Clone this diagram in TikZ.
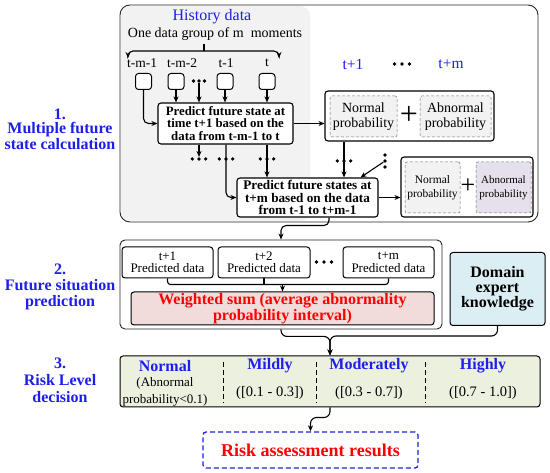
\documentclass[tikz,border=0pt]{standalone}
\usepackage{fontspec}
\setmainfont{Liberation Serif}
\usepackage{tikz}
\usetikzlibrary{calc}
\usetikzlibrary{arrows.meta}

\definecolor{hisblue}{RGB}{30,30,235}
\definecolor{hisgray}{RGB}{242,242,242}
\definecolor{wsumpink}{RGB}{242,220,219}
\definecolor{domainblue}{RGB}{218,238,243}
\definecolor{riskgreen}{RGB}{235,241,222}
\definecolor{abnlilac}{RGB}{230,224,236}

\tikzstyle{dot}=[circle, fill=black, minimum size=3.6pt, inner sep=0pt]
\tikzstyle{frame}=[draw=black!85, line width=0.9pt, rounded corners=5pt, inner sep=0pt]
\tikzstyle{predbox}=[draw, line width=1.1pt, rounded corners=3pt, fill=white, align=center, inner sep=0pt, font=\bfseries\fontsize{12.8}{12.5}\selectfont]
\tikzstyle{timebox}=[draw, line width=1pt, rounded corners=3pt, fill=white, minimum size=16pt, inner sep=0pt]
\tikzstyle{probbox}=[draw=black!55, densely dashed, line width=0.5pt, rounded corners=2pt, fill=hisgray, align=center, inner sep=0pt, font=\fontsize{14}{15}\selectfont]
\tikzstyle{secname}=[text=hisblue, align=center]
\tikzstyle{arr}=[line width=1.1pt, -{Stealth[length=6pt,width=5pt]}]
\tikzstyle{ln}=[line width=1.1pt]

\begin{document}
\begin{tikzpicture}[x=1pt,y=-1pt]
\useasboundingbox (0,0) rectangle (550,473);

\fill[hisgray, rounded corners=10pt] (121,6) rectangle (310,221);
\node[frame, rounded corners=10pt, minimum width=418pt, minimum height=217pt] (calc) at (329,113.5) {};

\node[secname, font=\bfseries\fontsize{16}{14.5}\selectfont] (lab1) at (60,129) {1.\\Multiple future\\state calculation};
\node[secname, font=\bfseries\fontsize{16}{16}\selectfont] (lab2) at (60,287) {2.\\Future situation\\prediction};
\node[secname, font=\bfseries\fontsize{16}{17}\selectfont] (lab3) at (60,380) {3.\\Risk Level\\decision};

\node[text=hisblue, font=\fontsize{16}{16}\selectfont] (hist) at (212,17) {History data};
\node[font=\fontsize{14}{14}\selectfont] (group) at (215,34) {One data group of m\ \ moments};
\coordinate (brtop) at (204,44);
\coordinate (brmid) at (204,51);
\coordinate (brL) at (128,58);
\coordinate (brR) at (279,58);
\draw[ln] (brtop) -- (brmid);
\draw[arr, rounded corners=5pt] (brmid) -| (brL);
\draw[arr, rounded corners=5pt] (brmid) -| (brR);

\node[font=\fontsize{13.5}{13.5}\selectfont] (tA) at (142,63) {t-m-1};
\node[font=\fontsize{13.5}{13.5}\selectfont] (tB) at (182,63) {t-m-2};
\node[font=\fontsize{13.5}{13.5}\selectfont] (tC) at (226,63) {t-1};
\node[font=\fontsize{13.5}{13.5}\selectfont] (tD) at (267,63) {t};
\node[timebox] (sA) at (143.5,81.5) {};
\node[timebox] (sB) at (176,81.5) {};
\node[timebox] (sC) at (225,81.5) {};
\node[timebox] (sD) at (267,81.5) {};

\foreach \n/\x/\y/\s in {dA/199/81/5.5, dB/199/159/6.7, dC/226/159/6.7, dD/267/159/6.7, dE/344/161/6.7, dT/402/64/7.5, dP/324/262/7.5} {
  \node[dot] (\n) at (\x,\y) {};
  \node[dot] (\n-l) at (\x-\s,\y) {};
  \node[dot] (\n-r) at (\x+\s,\y) {};
}
\node[dot] (dV) at (385,161) {};
\node[dot] (dV-t) at (385,155) {};
\node[dot] (dV-b) at (385,167) {};

\node[predbox, minimum width=135pt, minimum height=41pt] (box1) at (225.5,123.5) {Predict future state at\\time t+1 based on the\\data from t-m-1 to t};
\node[predbox, font=\bfseries\fontsize{13.2}{12.5}\selectfont, minimum width=141pt, minimum height=39pt] (box2) at (307.5,197.5) {Predict future states at\\t+m based on the data\\from t-1 to t+m-1};

\draw[arr, rounded corners=5pt] (sA.south) |- (box1.west);
\draw[arr] (sB.south) -- (sB |- box1.north);
\draw[arr] (dA) -- (dA |- box1.north);
\draw[arr] (sC.south) -- (sC |- box1.north);
\draw[arr] (sD.south) -- (sD |- box1.north);

\node[text=hisblue, font=\fontsize{15.5}{15.5}\selectfont] (tp1) at (353,64) {t+1};
\node[text=hisblue, font=\fontsize{15.5}{15.5}\selectfont] (tpm) at (451,64) {t+m};

\node[draw, line width=1.1pt, rounded corners=3pt, fill=white, minimum width=169pt, minimum height=50pt] (pr1) at (409.5,116) {};
\node[probbox, minimum width=67pt, minimum height=41pt] (nA) at (363.5,116.5) {Normal\\probability};
\node[font=\fontsize{32}{32}\selectfont, inner sep=0pt] (plus1) at (409,115) {+};
\node[probbox, minimum width=71pt, minimum height=41pt] (nB) at (455.5,116.5) {Abnormal\\probability};

\node[draw, line width=1.1pt, rounded corners=3pt, fill=white, minimum width=132pt, minimum height=60pt] (pr2) at (467,187) {};
\node[probbox, font=\fontsize{11.5}{14}\selectfont, minimum width=55pt, minimum height=51pt] (nC) at (432.5,187.5) {Normal\\probability};
\node[font=\fontsize{26}{26}\selectfont, inner sep=0pt] (plus2) at (468,186) {+};
\node[probbox, fill=abnlilac, font=\fontsize{11}{14}\selectfont, minimum width=55pt, minimum height=51pt] (nD) at (503.5,187.5) {Abnormal\\probability};

\draw[arr] (box1.east) -- (box1.east -| pr1.west);
\draw[arr] (dB |- box1.south) -- (dB.north);
\draw[arr, rounded corners=5pt] (dC |- box1.south) |- (box2.west);
\draw[arr] (dD |- box1.south) -- (dD |- box2.north);
\draw[arr] (dE |- pr1.south) -- (dE |- box2.north);
\draw[arr] (dV) -- ([xshift=-18pt]box2.north east);
\draw[arr] (box2.east) -- (box2.east -| pr2.west);

\node[frame, minimum width=322pt, minimum height=89pt] (pred) at (281,284.5) {};
\draw[arr, rounded corners=5pt] ([xshift=21.5pt]box2.south) |- ($(pred.north)+(0,-14)$) -- (pred.north);

\node[draw, line width=1pt, rounded corners=3pt, fill=white, minimum width=91pt, minimum height=31pt, align=center, inner sep=0pt, font=\fontsize{13}{12.5}\selectfont] (pd1) at (167.5,262.5) {t+1\\Predicted data};
\node[draw, line width=1pt, rounded corners=3pt, fill=white, minimum width=92pt, minimum height=31pt, align=center, inner sep=0pt, font=\fontsize{13}{12.5}\selectfont] (pd2) at (264,262.5) {t+2\\Predicted data};
\node[draw, line width=1pt, rounded corners=3pt, fill=white, minimum width=91pt, minimum height=31pt, align=center, inner sep=0pt, font=\fontsize{13}{12.5}\selectfont] (pd3) at (388.5,262.5) {t+m\\Predicted data};

\node[draw, line width=1pt, rounded corners=3pt, fill=wsumpink, minimum width=303pt, minimum height=33pt, align=center, inner sep=0pt, text=red, font=\bfseries\fontsize{16}{14.5}\selectfont] (wsum) at (282.5,308.5) {Weighted sum (average abnormality\\probability interval)};

\draw[ln, rounded corners=3pt] (pd1.south) -- ++(0,6) -| (pd3.south);
\draw[ln] (pd2.south) -- ++(0,6);
\draw[arr] (wsum.north |- 0,284) -- (wsum.north);

\node[draw, line width=1pt, rounded corners=3pt, fill=domainblue, minimum width=95pt, minimum height=73pt, align=center, inner sep=0pt, font=\bfseries\fontsize{16}{15}\selectfont] (domain) at (497.5,289) {Domain\\expert\\knowledge};

\node[draw, line width=1pt, rounded corners=3pt, fill=riskgreen, minimum width=420pt, minimum height=51pt] (risk) at (330,381.5) {};
\draw[arr, rounded corners=6pt] (pred.south) -- ++(0,7) -| (risk.north);
\draw[arr, rounded corners=6pt] (domain.south) -- ++(0,10) -| (risk.north);

\draw[line width=0.8pt, dash pattern=on 5pt off 3pt] (223,362) -- (223,403);
\draw[line width=0.8pt, dash pattern=on 5pt off 3pt] (316,362) -- (316,403);
\draw[line width=0.8pt, dash pattern=on 5pt off 3pt] (425,362) -- (425,403);

\node[text=hisblue, font=\bfseries\fontsize{16}{16}\selectfont] (lvN) at (165,366) {Normal};
\node[align=center, font=\fontsize{13}{17}\selectfont] (rgN) at (165,392) {(Abnormal\\probability<0.1)};
\node[text=hisblue, font=\bfseries\fontsize{16}{16}\selectfont] (lvL) at (270,366) {Mildly};
\node[font=\fontsize{14.5}{14.5}\selectfont] (rgL) at (270,393) {([0.1 - 0.3])};
\node[text=hisblue, font=\bfseries\fontsize{16}{16}\selectfont] (lvM) at (369,366) {Moderately};
\node[font=\fontsize{14.5}{14.5}\selectfont] (rgM) at (369,393) {([0.3 - 0.7])};
\node[text=hisblue, font=\bfseries\fontsize{16}{16}\selectfont] (lvH) at (483,366) {Highly};
\node[font=\fontsize{14.5}{14.5}\selectfont] (rgH) at (483,393) {([0.7 - 1.0])};

\node[draw=hisblue, line width=1.3pt, dash pattern=on 5pt off 3pt, rounded corners=3pt, minimum width=215pt, minimum height=36pt, text=red, font=\bfseries\fontsize{18}{18}\selectfont] (result) at (310.5,450) {Risk assessment results};
\draw[arr, rounded corners=6pt] (risk.south) -- ++(0,10) -| (result.north);
\end{tikzpicture}
\end{document}
